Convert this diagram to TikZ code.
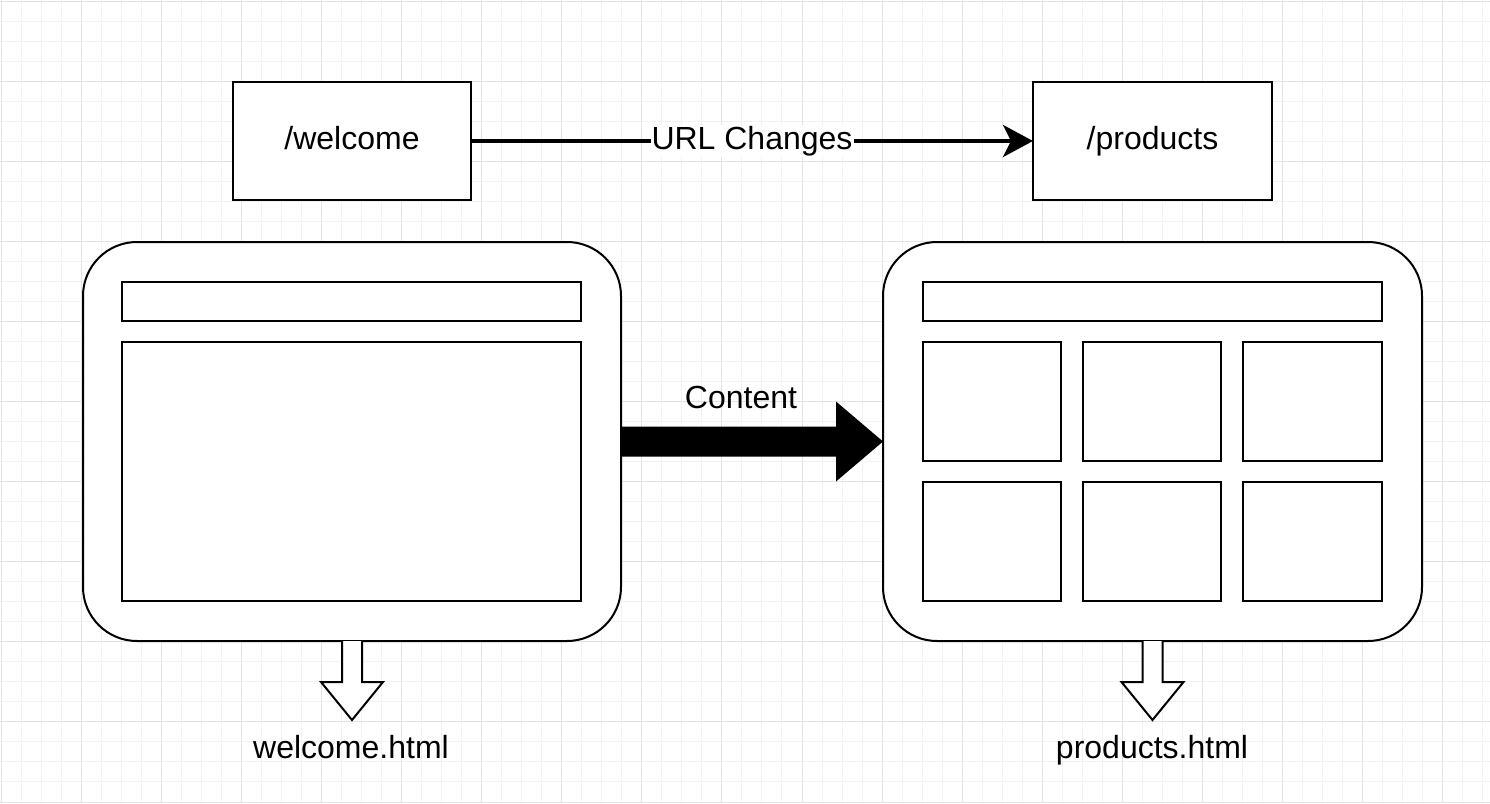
\documentclass[tikz,border=0pt]{standalone}
\usepackage{fontspec}
\setmainfont{Liberation Sans}
\usetikzlibrary{arrows.meta,calc}
\begin{document}
\begin{tikzpicture}[x=1pt,y=-1pt,
  minorgrid/.style={draw=black!5,line width=1pt},
  majorgrid/.style={draw=black!11,line width=1pt},
  txt/.style={font=\fontsize{32}{38}\selectfont,text height=23pt,text depth=7pt},
  box/.style={draw=black,fill=white,line width=2pt,inner sep=0pt,outer sep=0pt,txt},
  page/.style={box,rounded corners=54pt},
  lbl/.style={inner sep=2pt,txt},
  urlarrow/.style={line width=4pt,-{Stealth[length=30pt,width=32pt,inset=8pt]}},
  fatarrow/.style={fill=black},
  hollowarrow/.style={draw=black,fill=white,line width=2pt,line join=miter}
]
\useasboundingbox (0,0) rectangle (1490,803);
\fill[white] (0,0) rectangle (1490,803);
% grid
\foreach \i in {0,...,74} {
  \draw[minorgrid] ({1+20.025*\i},0) -- ({1+20.025*\i},803);
}
\foreach \i in {0,...,40} {
  \draw[minorgrid] (0,{1+20.025*\i}) -- (1490,{1+20.025*\i});
}
\foreach \i in {0,...,18} {
  \draw[majorgrid] ({1+80.1*\i},0) -- ({1+80.1*\i},803);
}
\foreach \i in {0,...,10} {
  \draw[majorgrid] (0,{1+80.1*\i}) -- (1490,{1+80.1*\i});
}

% URL boxes
\node[box,minimum width=238pt,minimum height=118pt] (welcome) at (352,141) {/welcome};
\node[box,minimum width=239pt,minimum height=118pt] (products) at (1152.5,141) {/products};
\draw[urlarrow] (welcome) -- (products)
  node[midway,fill=white,lbl,inner sep=1pt] (urllbl) {URL Changes};

% pages
\node[page,minimum width=538pt,minimum height=399pt] (lp) at (352,441.5) {};
\node[page,minimum width=539pt,minimum height=399pt] (rp) at (1152.5,441.5) {};

% left page contents
\node[box,minimum width=459pt,minimum height=39pt] (lhead) at (351.5,301.5) {};
\node[box,minimum width=459pt,minimum height=259pt] (lbody) at (351.5,471.5) {};

% right page contents
\node[box,minimum width=459pt,minimum height=39pt] (rhead) at (1152.5,301.5) {};
\node[box,minimum width=138pt,minimum height=119pt] (t11) at (992,401.5) {};
\node[box,minimum width=138pt,minimum height=119pt] (t12) at (1152,401.5) {};
\node[box,minimum width=139pt,minimum height=119pt] (t13) at (1312.5,401.5) {};
\node[box,minimum width=138pt,minimum height=119pt] (t21) at (992,541.5) {};
\node[box,minimum width=138pt,minimum height=119pt] (t22) at (1152,541.5) {};
\node[box,minimum width=139pt,minimum height=119pt] (t23) at (1312.5,541.5) {};

% fat content arrow
\fill[fatarrow] ($(lp.east)+(0,-15)$) -- ($(rp.west)+(-47,-15)$) -- ($(rp.west)+(-47,-40)$)
  -- (rp.west) -- ($(rp.west)+(-47,40)$) -- ($(rp.west)+(-47,15)$) -- ($(lp.east)+(0,15)$) -- cycle;
\node[lbl] (contentlbl) at (741,400) {Content};

% hollow down arrows
\draw[hollowarrow] ($(lp.south)+(-10,0)$) -- ++(0,41) -- ++(-21,0) -- ++(31,38) -- ++(31,-38) -- ++(-21,0) -- ++(0,-41);
\draw[hollowarrow] ($(rp.south)+(-10,0)$) -- ++(0,41) -- ++(-21,0) -- ++(31,38) -- ++(31,-38) -- ++(-21,0) -- ++(0,-41);

\node[lbl] (whtml) at (351,750) {welcome.html};
\node[lbl] (phtml) at (1152,750) {products.html};
\end{tikzpicture}
\end{document}
